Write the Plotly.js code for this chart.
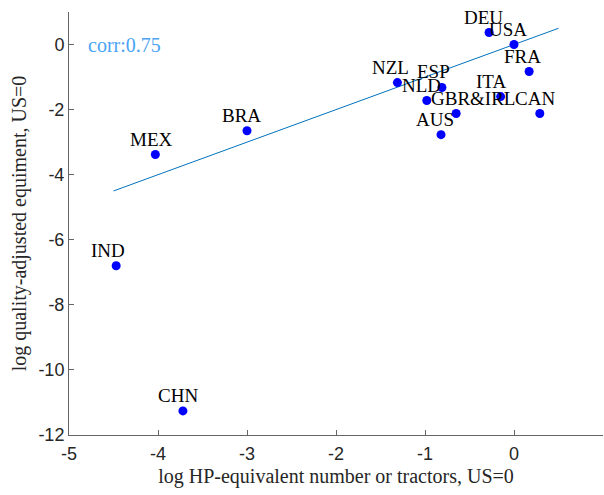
<!DOCTYPE html>
<html>
<head>
<meta charset="utf-8">
<script src="https://cdn.plot.ly/plotly-3.0.1.min.js"></script>
<style>html,body{margin:0;padding:0;background:#fff;}#chart{width:604px;height:495px;}</style>
</head>
<body>
<div id="chart"></div>
<script>
const countries = ["DEU","USA","FRA","NZL","ESP","NLD","ITA","GBR&IRL","CAN","AUS","BRA","MEX","IND","CHN"];
const tractorsLog = [-0.28, 0.0, 0.17, -1.31, -0.81, -0.98, -0.15, -0.65, 0.29, -0.82, -3.0, -4.03, -4.47, -3.72];
const equipLog = [0.37, 0.0, -0.83, -1.17, -1.32, -1.72, -1.6, -2.12, -2.12, -2.77, -2.65, -3.38, -6.8, -11.26];
const fitX = [-4.5, 0.5];
const fitY = [-4.5, 0.5];
const corrText = "corr:0.75";
const xTickVals = [-5, -4, -3, -2, -1, 0, 1];
const xTickText = ["-5", "-4", "-3", "-2", "-1", "0", "1"];
const yTickVals = [-12, -10, -8, -6, -4, -2, 0];
const yTickText = ["-12", "-10", "-8", "-6", "-4", "-2", "0"];

const serif = "Liberation Serif, Times New Roman, serif";
const sans = "Liberation Sans, Arial, sans-serif";

const traces = [
  {x: fitX, y: fitY, mode: "lines", line: {color: "#0072BD", width: 1}, hoverinfo: "skip"},
  {x: tractorsLog, y: equipLog, mode: "markers", marker: {color: "#0000ff", size: 9}, text: countries}
];

const annotations = countries.map((c, i) => ({
  x: tractorsLog[i], y: equipLog[i], text: c, showarrow: false,
  xanchor: "left", yanchor: "bottom", xshift: -27, yshift: 3,
  font: {family: serif, size: 19, color: "#000"}
}));
annotations.push({
  x: -4.81, y: 0, xref: "x", yref: "y", text: corrText, showarrow: false,
  xanchor: "left", yanchor: "middle",
  font: {family: serif, size: 20, color: "#4aa3f5"}
});

const layout = {
  width: 604, height: 495,
  margin: {l: 69, r: 1, t: 12, b: 60},
  paper_bgcolor: "#fff", plot_bgcolor: "#fff",
  showlegend: false,
  xaxis: {
    range: [-5, 1], tickmode: "array", tickvals: xTickVals, ticktext: xTickText,
    ticks: "inside", ticklen: 5, tickcolor: "#666", ticklabelstandoff: 2,
    showline: true, linecolor: "#666", linewidth: 1, showgrid: false, zeroline: false,
    tickfont: {family: sans, size: 18, color: "#262626"},
    title: {text: "log HP-equivalent number or tractors, US=0", font: {family: serif, size: 20, color: "#262626"}, standoff: 6}
  },
  yaxis: {
    range: [-12, 1], tickmode: "array", tickvals: yTickVals, ticktext: yTickText,
    ticks: "inside", ticklen: 5, tickcolor: "#666",
    showline: true, linecolor: "#666", linewidth: 1, showgrid: false, zeroline: false,
    tickfont: {family: sans, size: 18, color: "#262626"},
    title: {text: "log quality-adjusted equiment, US=0", font: {family: serif, size: 20, color: "#262626"}, standoff: 6}
  },
  annotations: annotations
};

Plotly.newPlot("chart", traces, layout, {displayModeBar: false, staticPlot: true});
</script>
</body>
</html>
